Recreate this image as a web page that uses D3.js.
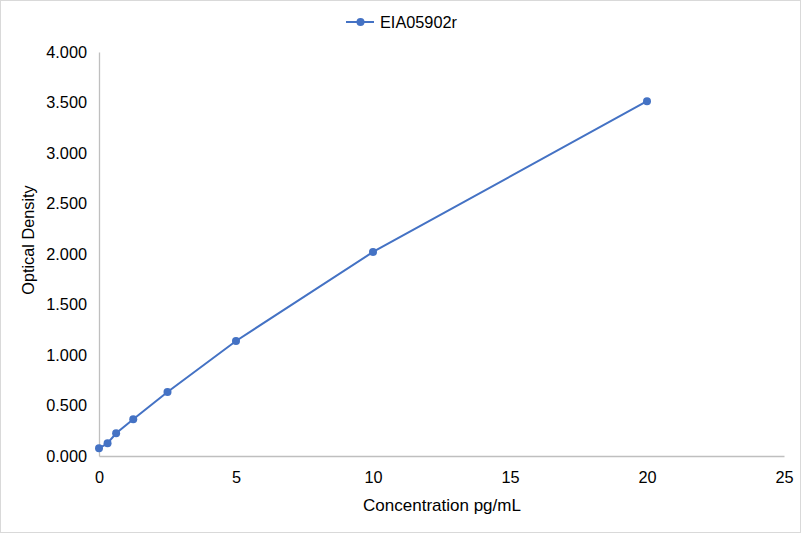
<!DOCTYPE html>
<html>
<head>
<meta charset="utf-8">
<script src="https://cdn.jsdelivr.net/npm/d3@7"></script>
<style>
  body { margin: 0; background: #fff; }
  svg { display: block; font-family: "Liberation Sans", Arial, sans-serif; }
</style>
</head>
<body>
<svg width="801" height="533"></svg>
<script>
let width = 801;
let height = 533;

// data
let seriesName = "EIA05902r";
let concentration = [0, 0.3125, 0.625, 1.25, 2.5, 5, 10, 20];
let density = [0.076, 0.126, 0.225, 0.363, 0.634, 1.139, 2.020, 3.513];
let xTicks = [0, 5, 10, 15, 20, 25];
let yTicks = [0, 0.5, 1, 1.5, 2, 2.5, 3, 3.5, 4];

let margin = { left: 99, right: 17, top: 52, bottom: 77 };
let color = "#4472C4";
let fs = 16.3;

let svg = d3.select("svg");

// chart border
svg.append("rect")
  .attr("x", 0.5).attr("y", 0.5)
  .attr("width", width - 1).attr("height", height - 1)
  .attr("fill", "#fff")
  .attr("stroke", "#d9d9d9");

let x = d3.scaleLinear().domain([0, 25]).range([margin.left, width - margin.right]);
let y = d3.scaleLinear().domain([0, 4]).range([height - margin.bottom, margin.top]);

// x axis
let xAxis = svg.append("g")
  .attr("transform", "translate(0," + y(0) + ")")
  .call(d3.axisBottom(x).tickValues(xTicks).tickSize(0).tickPadding(15).tickFormat(d3.format("d")));
xAxis.select(".domain").attr("stroke", "#bfbfbf").attr("stroke-width", 1.3);
xAxis.selectAll("text").attr("font-size", fs).attr("fill", "#000").attr("font-family", "Liberation Sans, Arial, sans-serif");

// y axis
let yAxis = svg.append("g")
  .attr("transform", "translate(" + x(0) + ",0)")
  .call(d3.axisLeft(y).tickValues(yTicks).tickSize(0).tickPadding(12).tickFormat(d3.format(".3f")));
yAxis.select(".domain").attr("stroke", "#bfbfbf").attr("stroke-width", 1.3);
yAxis.selectAll("text").attr("font-size", fs).attr("fill", "#000").attr("font-family", "Liberation Sans, Arial, sans-serif");

// axis titles
svg.append("text")
  .attr("x", 442)
  .attr("y", 511)
  .attr("text-anchor", "middle")
  .attr("font-size", 17)
  .text("Concentration pg/mL");

svg.append("text")
  .attr("transform", "translate(34,240) rotate(-90)")
  .attr("text-anchor", "middle")
  .attr("font-size", fs)
  .text("Optical Density");

// series
let pts = concentration.map((c, i) => [c, density[i]]);
let line = d3.line().x(d => x(d[0])).y(d => y(d[1]));

svg.append("path")
  .datum(pts)
  .attr("d", line)
  .attr("fill", "none")
  .attr("stroke", color)
  .attr("stroke-width", 2);

svg.selectAll("circle.pt")
  .data(pts)
  .enter()
  .append("circle")
  .attr("class", "pt")
  .attr("cx", d => x(d[0]))
  .attr("cy", d => y(d[1]))
  .attr("r", 4)
  .attr("fill", color);

// legend
let lg = svg.append("g").attr("transform", "translate(346,22)");
lg.append("line")
  .attr("x1", 0).attr("x2", 28)
  .attr("y1", 0).attr("y2", 0)
  .attr("stroke", color).attr("stroke-width", 2);
lg.append("circle").attr("cx", 14.5).attr("cy", 0).attr("r", 4).attr("fill", color);
lg.append("text")
  .attr("x", 34).attr("y", 6)
  .attr("font-size", fs)
  .text(seriesName);
</script>
</body>
</html>
